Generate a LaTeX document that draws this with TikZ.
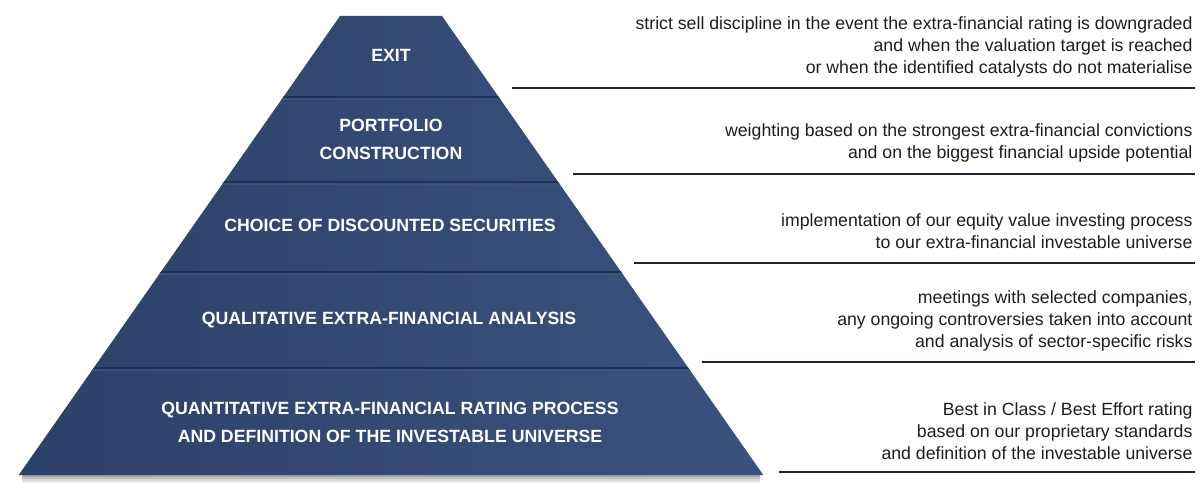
\documentclass[tikz,border=0pt]{standalone}
\usepackage{fontspec}
\setmainfont{Liberation Sans}
\usepackage{tikz}

\definecolor{navy}{RGB}{47,69,111}
\definecolor{navyl}{RGB}{58,82,126}
\definecolor{navyd}{RGB}{33,49,80}
\definecolor{rule}{RGB}{28,36,54}
\definecolor{txt}{RGB}{30,30,30}

\begin{document}
\begin{tikzpicture}[x=1pt,y=-1pt,
    level/.style={text=white,font=\fontsize{17.7}{28}\selectfont\bfseries,align=center},
    note/.style={text=txt,font=\fontsize{17.7}{22.2}\selectfont,align=right,anchor=east},
    sep/.style={navyd,line width=2pt},
    hilite/.style={navyl,line width=2pt},
    rulebar/.style={rule,line width=1.8pt}]
  \useasboundingbox (0,0) rectangle (1200,497);

  % shadow under the base
  \foreach \d/\o in {1/0.35,3/0.25,5/0.15,7/0.08}
    \draw[black,opacity=\o,line width=2pt] (22,475+\d) -- (760,475+\d);

  % pyramid body
  \coordinate (tl) at (340,16);
  \coordinate (tr) at (442,16);
  \coordinate (br) at (763.3,475);
  \coordinate (bl) at (18.7,475);
  \shade[left color=navy!95!black,right color=navyl] (tl) -- (tr) -- (br) -- (bl) -- cycle;

  % band separators
  \begin{scope}
    \clip (tl) -- (tr) -- (br) -- (bl) -- cycle;
    \foreach \y in {97,182,272,368} {
      \draw[sep] (0,\y) -- (800,\y);
      \draw[hilite] (0,\y+2) -- (800,\y+2);
    }
  \end{scope}

  % level labels
  \node[level] (exit) at (391,55) {EXIT};
  \node[level] (build) at (391,139) {PORTFOLIO\\CONSTRUCTION};
  \node[level] (choice) at (390,225) {CHOICE OF DISCOUNTED SECURITIES};
  \node[level] (quali) at (389,320) {QUALITATIVE EXTRA-FINANCIAL ANALYSIS};
  \node[level] (quanti) at (390,422) {QUANTITATIVE EXTRA-FINANCIAL RATING PROCESS\\AND DEFINITION OF THE INVESTABLE UNIVERSE};

  % notes on the right
  \node[note] (n1) at (1196,47) {strict sell discipline in the event the extra-financial rating is downgraded\\and when the valuation target is reached\\or when the identified catalysts do not materialise};
  \node[note] (n2) at (1196,143) {weighting based on the strongest extra-financial convictions\\and on the biggest financial upside potential};
  \node[note] (n3) at (1196,231) {implementation of our equity value investing process\\to our extra-financial investable universe};
  \node[note] (n4) at (1196,321) {meetings with selected companies,\\any ongoing controversies taken into account\\and analysis of sector-specific risks};
  \node[note] (n5) at (1196,431) {Best in Class / Best Effort rating\\based on our proprietary standards\\and definition of the investable universe};

  % rules under the notes
  \coordinate (a1) at (512,88);  \coordinate (b1) at (1195,88);
  \coordinate (a2) at (573,174); \coordinate (b2) at (1195,174);
  \coordinate (a3) at (634,263); \coordinate (b3) at (1195,263);
  \coordinate (a4) at (702,362); \coordinate (b4) at (1195,362);
  \coordinate (a5) at (779,472); \coordinate (b5) at (1195,472);
  \foreach \i in {1,...,5}
    \draw[rulebar] (a\i) -- (b\i);
\end{tikzpicture}
\end{document}
